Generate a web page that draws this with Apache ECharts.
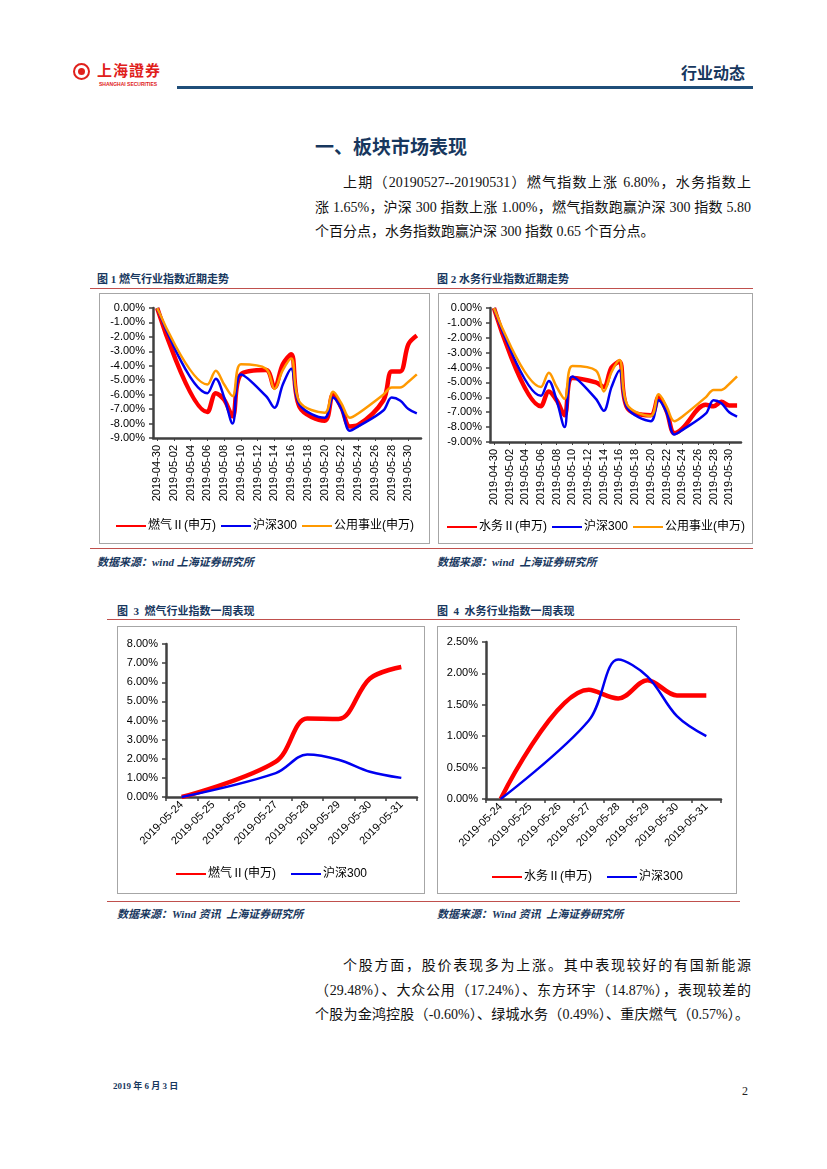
<!DOCTYPE html>
<html><head><meta charset="utf-8">
<script src="https://cdn.jsdelivr.net/npm/echarts@6/dist/echarts.min.js"></script>
<style>
html,body{margin:0;padding:0;background:#fff;}
body{width:827px;height:1169px;position:relative;overflow:hidden;font-family:"Liberation Serif","Noto Sans CJK SC",serif;}
.abs{position:absolute;}
.cap{position:absolute;font-size:11px;font-weight:bold;color:#17375E;font-family:"Liberation Serif","Noto Sans CJK SC",serif;white-space:nowrap;}
.src{position:absolute;font-size:11px;font-weight:bold;font-style:italic;color:#17375E;font-family:"Liberation Serif","Noto Sans CJK SC",serif;white-space:nowrap;}
.rl{position:absolute;height:1px;background:#C0504D;}
.box{position:absolute;border:1.5px solid #A6A6A6;box-sizing:border-box;}
.ln{position:absolute;font-size:14px;line-height:24.5px;height:24.5px;color:#111;font-family:"Liberation Serif","Noto Sans CJK SC",serif;text-align:justify;text-align-last:justify;}
.ln.last{text-align:left;text-align-last:left;}
</style></head>
<body>
<!-- header -->
<div class="abs" style="left:73px;top:63px;width:13px;height:13px;border:2px solid #E0201B;border-radius:50%;"></div>
<div class="abs" style="left:78px;top:68px;width:7px;height:7px;background:#E0201B;border-radius:50%;"></div>
<div class="abs" style="left:97px;top:59px;font-size:15px;font-weight:bold;color:#E0201B;font-family:'Noto Sans CJK TC';letter-spacing:1px;">上海證券</div>
<div class="abs" style="left:99px;top:81px;font-size:5px;font-weight:bold;color:#E0201B;font-family:'Liberation Sans';">SHANGHAI SECURITIES</div>
<div class="abs" style="left:177px;top:86px;width:576px;height:3px;background:#1F4E79;"></div>
<div class="abs" style="left:681px;top:60px;font-size:16px;font-weight:bold;color:#17375E;font-family:'Noto Sans CJK SC';">行业动态</div>

<div class="abs" style="left:315px;top:132px;font-size:19px;font-weight:bold;color:#17375E;font-family:'Noto Sans CJK SC';">一、板块市场表现</div>
<div class="ln" style="left:343px;top:171px;width:408px;">上期（20190527--20190531）燃气指数上涨 6.80%，水务指数上</div>
<div class="ln" style="left:315px;top:195.5px;width:436px;">涨 1.65%，沪深 300 指数上涨 1.00%，燃气指数跑赢沪深 300 指数 5.80</div>
<div class="ln last" style="left:315px;top:220px;width:436px;">个百分点，水务指数跑赢沪深 300 指数 0.65 个百分点。</div>

<div class="cap" style="left:97px;top:270px;">图 1 燃气行业指数近期走势</div>
<div class="cap" style="left:437px;top:270px;">图 2 水务行业指数近期走势</div>
<div class="rl" style="left:90px;top:288px;width:663px;"></div>
<div class="box" style="left:99px;top:293px;width:331px;height:251px;"></div>
<div class="box" style="left:438px;top:293px;width:315px;height:251px;"></div>
<div id="c1" class="abs" style="left:99px;top:293px;width:331px;height:251px;"></div>
<div id="c2" class="abs" style="left:438px;top:293px;width:315px;height:251px;"></div>
<div class="rl" style="left:90px;top:548px;width:663px;"></div>
<div class="src" style="left:97px;top:553px;">数据来源：wind 上海证券研究所</div>
<div class="src" style="left:437px;top:553px;">数据来源：wind&nbsp; 上海证券研究所</div>

<div class="cap" style="left:117px;top:602px;">图&nbsp; 3&nbsp; 燃气行业指数一周表现</div>
<div class="cap" style="left:437px;top:602px;">图&nbsp; 4&nbsp; 水务行业指数一周表现</div>
<div class="rl" style="left:107px;top:619px;width:633px;"></div>
<div class="box" style="left:117px;top:626px;width:308px;height:268px;"></div>
<div class="box" style="left:437px;top:626px;width:300px;height:268px;"></div>
<div id="c3" class="abs" style="left:117px;top:626px;width:308px;height:268px;"></div>
<div id="c4" class="abs" style="left:437px;top:626px;width:300px;height:268px;"></div>
<div class="rl" style="left:107px;top:901px;width:633px;"></div>
<div class="src" style="left:117px;top:905px;">数据来源：Wind 资讯&nbsp; 上海证券研究所</div>
<div class="src" style="left:437px;top:905px;">数据来源：Wind 资讯&nbsp; 上海证券研究所</div>

<div class="ln" style="left:343px;top:954px;width:408px;">个股方面，股价表现多为上涨。其中表现较好的有国新能源</div>
<div class="ln" style="left:315px;top:978.5px;width:436px;">（29.48%）、大众公用（17.24%）、东方环宇（14.87%），表现较差的</div>
<div class="ln" style="left:315px;top:1003px;width:434px;">个股为金鸿控股（-0.60%）、绿城水务（0.49%）、重庆燃气（0.57%）。</div>

<div class="abs" style="left:113px;top:1079px;font-size:9px;font-weight:bold;color:#17375E;font-family:'Liberation Serif','Noto Sans CJK SC';">2019 年 6 月 3 日</div>
<div class="abs" style="left:742px;top:1084px;font-size:12px;color:#222;font-family:'Liberation Serif';">2</div>

<script>
// ---------- data ----------
var days = ['2019-04-30','2019-05-01','2019-05-02','2019-05-03','2019-05-04','2019-05-05','2019-05-06','2019-05-07','2019-05-08','2019-05-09','2019-05-10','2019-05-11','2019-05-12','2019-05-13','2019-05-14','2019-05-15','2019-05-16','2019-05-17','2019-05-18','2019-05-19','2019-05-20','2019-05-21','2019-05-22','2019-05-23','2019-05-24','2019-05-25','2019-05-26','2019-05-27','2019-05-28','2019-05-29','2019-05-30','2019-05-31'];
var gasTrend   = [0,null,null,null,null,null,-7.2,-5.9,-6.35,-7.5,-4.6,null,null,-4.3,-5.5,-3.9,-3.2,-6.85,null,null,-7.8,-6.0,-6.9,-8.2,-8.1,null,null,-6.4,-4.4,-4.4,-2.5,-1.9];
var waterTrend = [0,null,null,null,null,null,-6.6,-5.6,-6.2,-7.2,-4.7,null,null,-5.0,-5.3,-4.0,-3.6,-6.7,null,null,-7.2,-6.0,-6.9,-8.4,-8.1,null,null,-6.5,-6.6,-6.3,-6.55,-6.55];
var hs300Trend = [0,null,null,null,null,null,-5.9,-4.9,-6.2,-8.0,-4.6,null,null,-6.1,-6.9,-5.3,-4.2,-6.7,null,null,-7.6,-6.2,-7.0,-8.5,-8.2,null,null,-7.1,-6.2,-6.4,-7.0,-7.3];
var utilTrend  = [0,null,null,null,null,null,-5.3,-4.35,-5.3,-6.1,-3.9,null,null,-4.2,-5.6,-4.3,-3.5,-6.5,null,null,-7.25,-5.8,-6.6,-7.6,-7.3,null,null,-6.0,-5.5,-5.5,-5.1,-4.6];

var week = ['2019-05-24','2019-05-25','2019-05-26','2019-05-27','2019-05-28','2019-05-29','2019-05-30','2019-05-31'];
var gasWeek   = [0,null,null,1.85,4.1,4.08,6.2,6.8];
var waterWeek = [0,null,null,1.74,1.6,1.89,1.65,1.65];
var hs300Week = [0,null,null,1.25,2.22,1.95,1.32,1.0];

var nameGas = '燃气Ⅱ(申万)', nameWater = '水务Ⅱ(申万)', nameHs = '沪深300', nameUtil = '公用事业(申万)';

// ---------- helpers ----------
var RED = '#FF0000', BLUE = '#0000F0', ORANGE = '#FF9900';
var AX = '#404040';
var FONT = 'Liberation Sans';
function pct(v){ return v.toFixed(2) + '%'; }
function line(name, data, color, width){
  return { name:name, type:'line', data:data, connectNulls:true, smooth:0.35,
    symbol:'none', showSymbol:false, animation:false,
    lineStyle:{color:color, width:width}, itemStyle:{color:color} };
}
function yAxis(min,max,interval){
  return { type:'value', min:min, max:max, interval:interval,
    axisLine:{show:true, lineStyle:{color:AX, width:2.5}},
    axisTick:{show:true, length:4, lineStyle:{color:AX, width:1.5}},
    splitLine:{show:false},
    axisLabel:{formatter:pct, color:'#000', fontFamily:FONT, fontSize:11, margin:8} };
}
function legend(x, y, fs, gap){
  return { left:x, top:y, itemWidth:30, itemHeight:10, itemGap:gap,
    itemStyle:{opacity:0, borderWidth:0},
    textStyle:{fontFamily:'Liberation Sans, Noto Sans CJK SC', fontSize:fs, color:'#000', padding:[0,0,0,-3]} };
}

// ---------- chart 1 ----------
var c1 = echarts.init(document.getElementById('c1'));
c1.setOption({
  animation:false,
  grid:{left:54, top:15, right:9, bottom:106},
  legend:legend('center', 222, 12, 4),
  xAxis:{type:'category', data:days, boundaryGap:true,
    axisLine:{onZero:false, lineStyle:{color:AX, width:2.5}},
    axisTick:{show:true, interval:1, alignWithLabel:true, length:3, lineStyle:{color:AX}},
    axisLabel:{interval:1, rotate:90, fontFamily:FONT, fontSize:11, color:'#000', margin:7, hideOverlap:false}},
  yAxis:yAxis(-9,0,1),
  series:[ line(nameGas, gasTrend, RED, 4.5), line(nameHs, hs300Trend, BLUE, 2.5), line(nameUtil, utilTrend, ORANGE, 2.5) ]
});

// ---------- chart 2 ----------
var c2 = echarts.init(document.getElementById('c2'));
c2.setOption({
  animation:false,
  grid:{left:52, top:15, right:12, bottom:102},
  legend:legend('center', 223, 12, 4),
  xAxis:{type:'category', data:days, boundaryGap:true,
    axisLine:{onZero:false, lineStyle:{color:AX, width:2.5}},
    axisTick:{show:true, interval:1, alignWithLabel:true, length:3, lineStyle:{color:AX}},
    axisLabel:{interval:1, rotate:90, fontFamily:FONT, fontSize:11, color:'#000', margin:7, hideOverlap:false}},
  yAxis:yAxis(-9,0,1),
  series:[ line(nameWater, waterTrend, RED, 4.5), line(nameHs, hs300Trend, BLUE, 2.5), line(nameUtil, utilTrend, ORANGE, 2.5) ]
});

// ---------- chart 3 ----------
var c3 = echarts.init(document.getElementById('c3'));
c3.setOption({
  animation:false,
  grid:{left:49, top:18, right:8, bottom:97},
  legend:legend('center', 237, 12, 14),
  xAxis:{type:'category', data:week, boundaryGap:true,
    axisLine:{onZero:false, lineStyle:{color:AX, width:2.5}},
    axisTick:{show:true, length:4, lineStyle:{color:AX, width:1.5}},
    axisLabel:{interval:0, rotate:45, fontFamily:FONT, fontSize:11, color:'#000', margin:6, hideOverlap:false}},
  yAxis:yAxis(0,8,1),
  series:[ line(nameGas, gasWeek, RED, 4.5), line(nameHs, hs300Week, BLUE, 2.5) ]
});

// ---------- chart 4 ----------
var c4 = echarts.init(document.getElementById('c4'));
c4.setOption({
  animation:false,
  grid:{left:49, top:16, right:16, bottom:95},
  legend:legend('center', 240, 12, 14),
  xAxis:{type:'category', data:week, boundaryGap:true,
    axisLine:{onZero:false, lineStyle:{color:AX, width:2.5}},
    axisTick:{show:true, length:4, lineStyle:{color:AX, width:1.5}},
    axisLabel:{interval:0, rotate:45, fontFamily:FONT, fontSize:11, color:'#000', margin:6, hideOverlap:false}},
  yAxis:yAxis(0,2.5,0.5),
  series:[ line(nameWater, waterWeek, RED, 4.5), line(nameHs, hs300Week, BLUE, 2.5) ]
});
</script>
</body></html>
